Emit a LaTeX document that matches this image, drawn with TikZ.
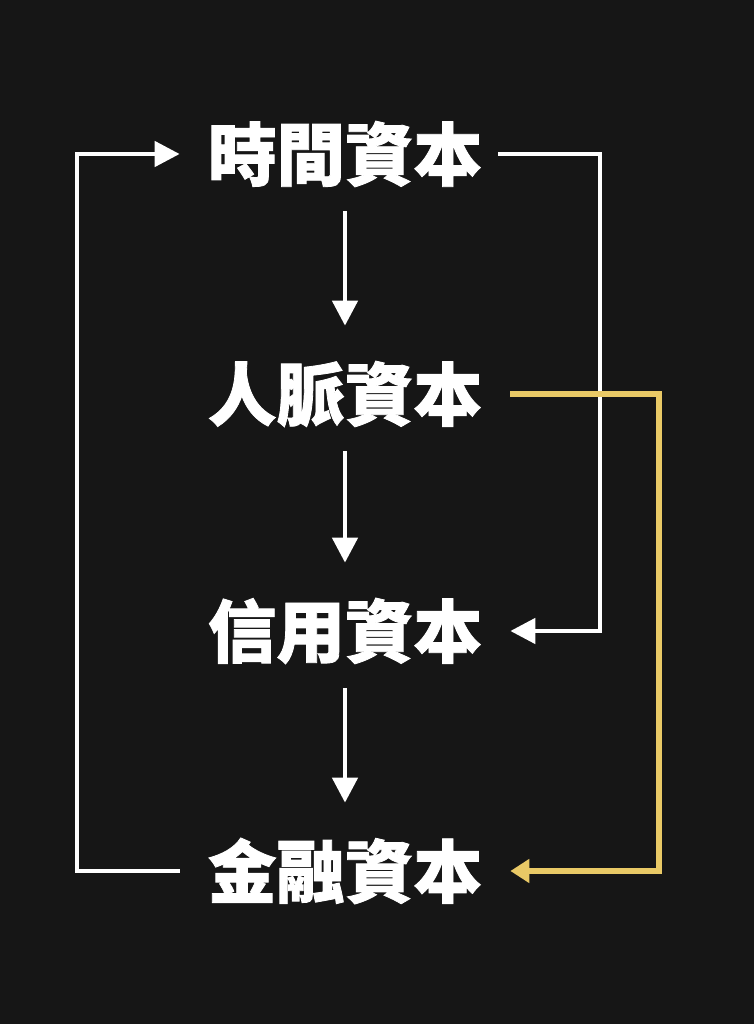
\documentclass[tikz,border=0pt]{standalone}
\usepackage{fontspec}
\usepackage{tikz}
\usetikzlibrary{arrows.meta}
\newfontfamily\cjk{Noto Sans CJK TC}[BoldFeatures={FakeBold=1.2}]
\definecolor{bgdark}{HTML}{161616}
\definecolor{goldline}{HTML}{E9C966}

\begin{document}
\begin{tikzpicture}[
  capital/.style={text=white, font=\cjk\bfseries\fontsize{39}{39}\selectfont, inner sep=0pt, minimum width=6.6cm, minimum height=2.28cm},
  flow/.style={draw=white, line width=2.6pt, -{Triangle[length=0.5cm, width=0.5cm]}},
  goldflow/.style={draw=goldline, line width=2.9pt, -{Triangle[length=0.38cm, width=0.46cm]}}
]
\fill[bgdark] (0,0) rectangle (15.08,20.48);
\useasboundingbox (0,0) rectangle (15.08,20.48);

\node [capital] (jikan) at (6.9,17.4) {時間資本};
\node [capital] (jinmyaku) at (6.9,12.6) {人脈資本};
\node [capital] (shinyo) at (6.9,7.86) {信用資本};
\node [capital] (kinyu) at (6.9,3.06) {金融資本};

\coordinate (lx) at (1.54,0);
\coordinate (rx) at (12.0,0);
\coordinate (gx) at (13.18,0);

\draw [flow, shorten >=0.22cm] (jikan) -- (jinmyaku);
\draw [flow, shorten >=0.22cm] (jinmyaku) -- (shinyo);
\draw [flow, shorten >=0.22cm] (shinyo) -- (kinyu);

% loops
\draw [flow] (kinyu.west) -- (kinyu.west -| lx) |- (jikan.west);
\draw [flow, shorten <=-0.24cm] (jikan.east) -- (jikan.east -| rx) |- (shinyo.east);
\draw [goldflow] (jinmyaku.east) -- (jinmyaku.east -| gx) |- (kinyu.east);
\end{tikzpicture}
\end{document}
